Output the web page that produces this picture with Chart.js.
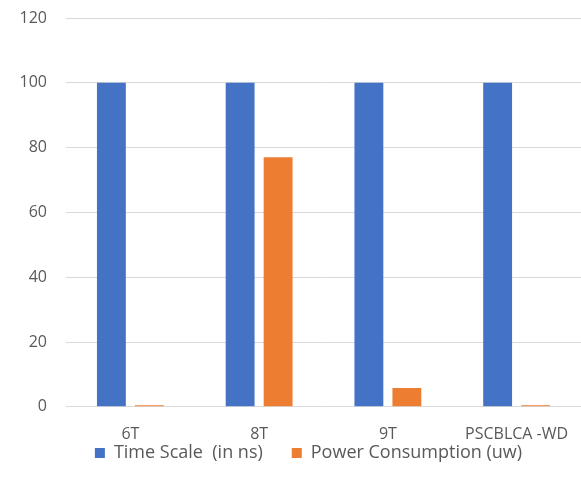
<!DOCTYPE html>
<html>
<head>
<meta charset="utf-8">
<script src="https://cdn.jsdelivr.net/npm/chart.js@4.4.1/dist/chart.umd.min.js"></script>
<style>
  html, body { margin: 0; padding: 0; background: #fff; }
  #wrap { width: 581px; height: 491px; }
</style>
</head>
<body>
<div id="wrap"><canvas id="graphique"></canvas></div>
<script>
// Données
const categories = ['6T', '8T', '9T', 'PSCBLCA -WD'];
const tempsNs = [100, 100, 100, 100];
const puissanceUw = [0.5, 77, 5.8, 0.5];
const ticksY = [0, 20, 40, 60, 80, 100, 120];

const gris = '#595959';
const police = { family: "'Open Sans', 'Liberation Sans', sans-serif", size: 16 };
const policeLegende = { family: "'Open Sans', 'Liberation Sans', sans-serif", size: 18 };

// Légende plus compacte, collée sous les libellés de l'axe X
const placerLegende = {
  id: 'placerLegende',
  beforeLayout(chart) {
    const leg = chart.legend;
    if (leg && !leg._retouche) {
      const fitOrig = leg.fit.bind(leg);
      leg.fit = function () { fitOrig(); this.height = 37; };
      leg._retouche = true;
    }
  },
  afterLayout(chart) {
    const leg = chart.legend;
    const dy = leg.top - 415;
    const dx = 13;
    leg.top -= dy;
    leg.height = 70;
    leg.bottom = leg.top + 70;
    leg.left += dx;
    leg.right += dx;
    leg.legendHitBoxes.forEach(b => { b.top -= dy; b.left += dx; });
  }
};

new Chart(document.getElementById('graphique'), {
  type: 'bar',
  data: {
    labels: categories,
    datasets: [
      { label: 'Time Scale  (in ns)', data: tempsNs, backgroundColor: '#4472C4' },
      { label: 'Power Consumption (uw)', data: puissanceUw, backgroundColor: '#ED7D31' }
    ]
  },
  options: {
    responsive: true,
    maintainAspectRatio: false,
    animation: false,
    categoryPercentage: 0.59,
    barPercentage: 0.76,
    layout: { padding: { left: 10, right: 0, top: 18, bottom: 0 } },
    plugins: {
      tooltip: { enabled: false },
      legend: {
        position: 'bottom',
        labels: {
          color: gris,
          font: policeLegende,
          boxWidth: 10,
          boxHeight: 10,
          padding: 29
        }
      }
    },
    scales: {
      x: {
        grid: { display: false },
        border: { display: false },
        ticks: { color: gris, font: police, padding: 10, autoSkip: false, maxRotation: 0 }
      },
      y: {
        min: 0,
        max: 120,
        afterBuildTicks: axe => { axe.ticks = ticksY.map(v => ({ value: v })); },
        afterFit: axe => { axe.width = 56; axe.paddingTop = 0; axe.paddingBottom = 0; },
        grid: { color: '#D9D9D9', drawTicks: false },
        border: { display: false },
        ticks: { color: gris, font: police, padding: 19 }
      }
    }
  },
  plugins: [placerLegende]
});
</script>
</body>
</html>
